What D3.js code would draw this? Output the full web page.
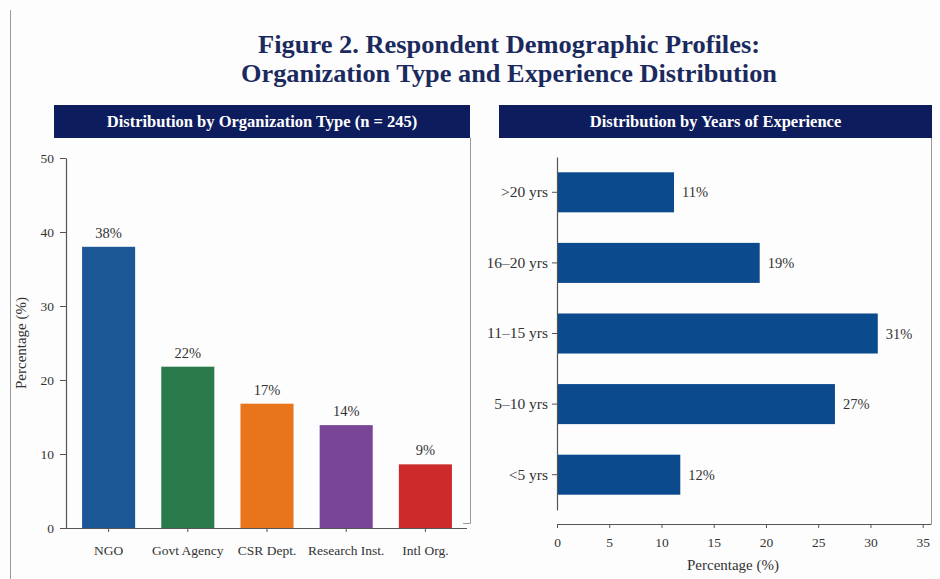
<!DOCTYPE html>
<html>
<head>
<meta charset="utf-8">
<script src="https://cdn.jsdelivr.net/npm/d3@7/dist/d3.min.js"></script>
<style>
  html, body { margin: 0; padding: 0; background: #fdfdfd; }
  svg { display: block; }
  text { font-family: "Liberation Serif", "Times New Roman", serif; }
</style>
</head>
<body>
<svg id="fig" width="940" height="579"></svg>
<script>
// Organization type distribution (percent of respondents, n = 245)
const orgTypes = ["NGO", "Govt Agency", "CSR Dept.", "Research Inst.", "Intl Org."];
const orgPct = [38.0, 21.8, 16.8, 13.9, 8.6];
const orgYTicks = [0, 10, 20, 30, 40, 50];

// Years of experience distribution (percent of respondents)
const expBands = [">20 yrs", "16–20 yrs", "11–15 yrs", "5–10 yrs", "<5 yrs"];
const expPct = [11.2, 19.4, 30.7, 26.6, 11.8];
const expXTicks = [0, 5, 10, 15, 20, 25, 30, 35];

const titleLines = ["Figure 2. Respondent Demographic Profiles:",
                    "Organization Type and Experience Distribution"];

const orgColors = ["#1c5896", "#2b7a4b", "#e8751c", "#784597", "#cc2a2b"];
const expColor = "#0b4a8d";
const navy = "#0d1c5c";
const textCol = "#333333";
const axisCol = "#555555";
const pctFmt = v => d3.format(".0f")(v) + "%";

const svg = d3.select("#fig");

// Outer left rule of the figure
svg.append("line").attr("x1", 10.5).attr("x2", 10.5).attr("y1", 10).attr("y2", 579)
  .attr("stroke", "#9a9a9a").attr("stroke-width", 1);

// Figure title, two lines
svg.selectAll("text.title").data(titleLines).join("text").attr("class", "title")
  .attr("x", 509).attr("y", (d, i) => 53 + i * 29)
  .attr("text-anchor", "middle")
  .attr("font-size", 25).attr("font-weight", "bold").attr("fill", "#1b2a5e")
  .attr("textLength", (d, i) => i === 0 ? 502 : 536)
  .attr("lengthAdjust", "spacingAndGlyphs")
  .text(d => d);

// Panel header bars
function header(x0, x1, label) {
  svg.append("rect").attr("x", x0).attr("y", 105).attr("width", x1 - x0).attr("height", 33)
    .attr("fill", navy);
  svg.append("text").attr("x", (x0 + x1) / 2).attr("y", 127).attr("text-anchor", "middle")
    .attr("font-size", 16.5).attr("font-weight", "bold").attr("fill", "#ffffff").text(label);
}
header(54, 470, "Distribution by Organization Type (n = 245)");
header(499, 932, "Distribution by Years of Experience");

// ---------- Left panel: vertical bars ----------
const xOrg = d3.scaleBand().domain(orgTypes).range([69, 465]).paddingInner(0.33).paddingOuter(0.165);
const yOrg = d3.scaleLinear().domain([0, 50]).range([528, 158]);

// panel frame (right edge)
svg.append("line").attr("x1", 470.5).attr("x2", 470.5).attr("y1", 138).attr("y2", 523.5)
  .attr("stroke", "#9a9a9a");
svg.append("line").attr("x1", 463).attr("x2", 470.5).attr("y1", 523.5).attr("y2", 523.5)
  .attr("stroke", "#9a9a9a");

const left = svg.append("g");
left.selectAll("rect.bar").data(orgPct).join("rect").attr("class", "bar")
  .attr("x", (d, i) => xOrg(orgTypes[i]))
  .attr("width", xOrg.bandwidth())
  .attr("y", d => yOrg(d))
  .attr("height", d => yOrg(0) - yOrg(d))
  .attr("fill", (d, i) => orgColors[i]);

left.selectAll("text.val").data(orgPct).join("text").attr("class", "val")
  .attr("x", (d, i) => xOrg(orgTypes[i]) + xOrg.bandwidth() / 2)
  .attr("y", d => yOrg(d) - 9)
  .attr("text-anchor", "middle").attr("font-size", 14.5).attr("fill", textCol)
  .text(pctFmt);

const yAxisL = left.append("g").attr("transform", "translate(66,0)")
  .call(d3.axisLeft(yOrg).tickValues(orgYTicks).tickSize(6).tickPadding(6).tickSizeOuter(0));
const xAxisL = left.append("g").attr("transform", "translate(0,528)")
  .call(d3.axisBottom(xOrg).tickSize(4).tickPadding(13).tickSizeOuter(0));
xAxisL.select(".domain").attr("d", "M62,0.5H467");

left.append("text").attr("transform", "translate(26,343) rotate(-90)")
  .attr("text-anchor", "middle").attr("font-size", 15).attr("fill", textCol)
  .text("Percentage (%)");

// ---------- Right panel: horizontal bars ----------
const yExp = d3.scaleBand().domain(expBands).range([157, 510]).paddingInner(0.433).paddingOuter(0.2165);
const xExp = d3.scaleLinear().domain([0, 35]).range([557, 922.7]);

svg.append("line").attr("x1", 931.5).attr("x2", 931.5).attr("y1", 138).attr("y2", 524)
  .attr("stroke", "#9a9a9a");

const right = svg.append("g");
right.selectAll("rect.bar").data(expPct).join("rect").attr("class", "bar")
  .attr("x", xExp(0))
  .attr("y", (d, i) => yExp(expBands[i]))
  .attr("height", yExp.bandwidth())
  .attr("width", d => xExp(d) - xExp(0))
  .attr("fill", expColor);

right.selectAll("text.val").data(expPct).join("text").attr("class", "val")
  .attr("x", d => xExp(d) + 8)
  .attr("y", (d, i) => yExp(expBands[i]) + yExp.bandwidth() / 2)
  .attr("dy", "0.35em").attr("font-size", 14.5).attr("fill", textCol)
  .text(pctFmt);

const yAxisR = right.append("g").attr("transform", "translate(557,0)")
  .call(d3.axisLeft(yExp).tickSize(5).tickPadding(4).tickSizeOuter(0));
const xAxisR = right.append("g").attr("transform", "translate(0,524)")
  .call(d3.axisBottom(xExp).tickValues(expXTicks).tickSize(4).tickPadding(9).tickSizeOuter(0));
xAxisR.select(".domain").attr("d", "M557,0.5H931.5");

right.append("text").attr("x", 733).attr("y", 570).attr("text-anchor", "middle")
  .attr("font-size", 15).attr("fill", textCol).text("Percentage (%)");

// shared axis styling
svg.selectAll(".domain").attr("stroke", axisCol).attr("stroke-width", 1.2);
svg.selectAll(".tick line").attr("stroke", axisCol);
svg.selectAll(".tick text").attr("font-family", "Liberation Serif, serif")
  .attr("font-size", 13.5).attr("fill", textCol);
yAxisR.selectAll(".tick text").attr("font-size", 15.5);
</script>
</body>
</html>
